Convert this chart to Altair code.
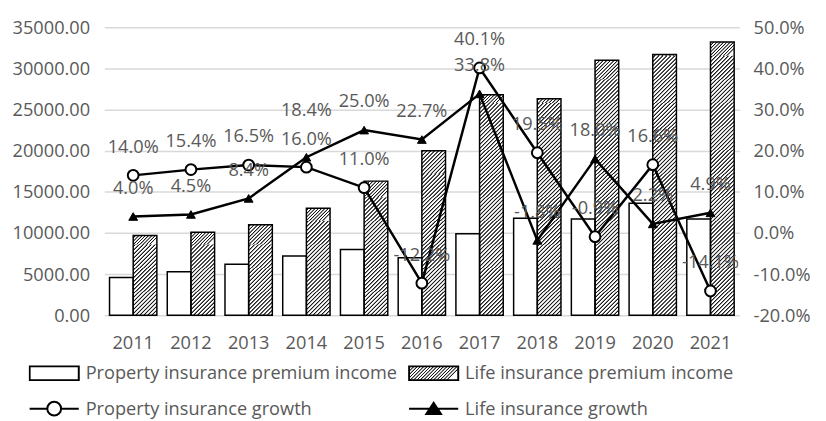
import altair as alt
import pandas as pd

# ---------------- data ----------------
years = ["2011", "2012", "2013", "2014", "2015", "2016", "2017", "2018", "2019", "2020", "2021"]
property_premium = [4600, 5300, 6200, 7200, 8000, 7000, 9900, 11800, 11700, 13600, 11700]
life_premium = [9700, 10100, 11000, 13000, 16300, 20000, 26800, 26300, 31000, 31700, 33200]
property_growth = [14.0, 15.4, 16.5, 16.0, 11.0, -12.2, 40.1, 19.5, -0.9, 16.6, -14.1]
life_growth = [4.0, 4.5, 8.4, 18.4, 25.0, 22.7, 33.8, -1.8, 18.0, 2.2, 4.9]

PROP_INC = "Property insurance premium income"
LIFE_INC = "Life insurance premium income"
PROP_GR = "Property insurance growth"
LIFE_GR = "Life insurance growth"
series_names = [PROP_INC, LIFE_INC, PROP_GR, LIFE_GR]

# ---------------- styling constants ----------------
FONT = "Open Sans"
FS = 18.5
GREY = "#595959"
W, H = 646, 293
Y_MAX = 35000
P_IN = 0.18
BAR_W = W / len(years) * (1 - P_IN) / 2
HPITCH = 4.0  # horizontal distance between hatch lines, px
PROFILE = ((0.2, "#ffffff"), (0.42, "#1a1a1a"), (0.58, "#1a1a1a"), (0.8, "#ffffff"))
TILE_PX = 24.0
TILE_V = TILE_PX * Y_MAX / H
OVL_V = 1.0 * Y_MAX / H
MINUS = "\u2212"

# hatch gradient for one tile of a life bar, phase-continuous along the bar
tile_stops = []
for i in range(-1, 14):
    for frac, col in PROFILE:
        tile_stops.append("{offset:(%g+datum.ph)/datum.sp,color:'%s'}" % (HPITCH * (i + frac), col))
tile_grad_expr = "{gradient:'linear',x1:0,y1:0,x2:1,y2:datum.th/%g,stops:[%s]}" % (BAR_W, ",".join(tile_stops))

# legend hatch (symbol box 50 x 14)
leg_k = HPITCH / 64.0
leg_parts = []
i = 0
while (i + PROFILE[0][0]) * leg_k <= 1:
    for frac, col in PROFILE:
        leg_parts.append("{offset:%.4f,color:'%s'}" % (min(1.0, (i + frac) * leg_k), col))
    i += 1
legend_grad_expr = "{gradient:'linear',x1:0,y1:0,x2:1,y2:0.28,stops:[%s]}" % ",".join(leg_parts)

shape_paths = [
    "M-1,-0.28H1V0.28H-1Z",
    "M-1,-0.28H1V0.28H-1Z",
    "M-1,0H-0.28M0.28,0H1M-0.28,0A0.28,0.28,0,1,1,0.28,0A0.28,0.28,0,1,1,-0.28,0Z",
    "M-1,0H1M0,-0.24L0.3,0.22L-0.3,0.22Z",
]

bars_df = pd.DataFrame({
    "year": years * 2,
    "series": [PROP_INC] * len(years) + [LIFE_INC] * len(years),
    "value": property_premium + life_premium,
})
growth_df = pd.DataFrame({"year": years, "pg": property_growth, "lg": life_growth})
legend_df = pd.DataFrame({"series": series_names})

x_enc = alt.X(
    "year:N",
    sort=years,
    scale=alt.Scale(paddingInner=P_IN, paddingOuter=P_IN / 2),
    axis=alt.Axis(title=None, labelAngle=0, domain=False, ticks=False, labelPadding=19,
                  labelFont=FONT, labelFontSize=FS, labelColor=GREY, grid=False),
)
xoff_enc = alt.XOffset("series:N", scale=alt.Scale(domain=[PROP_INC, LIFE_INC], paddingInner=0, paddingOuter=0))
left_scale = alt.Scale(domain=[0, Y_MAX], nice=False)
left_axis = alt.Axis(title=None, orient="left", values=list(range(0, 35001, 5000)), format=".2f",
                     domain=False, ticks=False, labelPadding=15, grid=True, gridColor="#d9d9d9",
                     gridWidth=1.5, labelFont=FONT, labelFontSize=FS, labelColor=GREY)

bars_fill = alt.Chart(bars_df).mark_bar(fill="white", strokeWidth=0).encode(
    x=x_enc, xOffset=xoff_enc, y=alt.Y("value:Q", scale=left_scale, axis=left_axis),
)

tiles = alt.Chart(bars_df).transform_filter(
    "datum.series === '%s'" % LIFE_INC
).transform_calculate(
    idx="sequence(0, ceil(datum.value / %g))" % TILE_V
).transform_flatten(
    ["idx"]
).transform_calculate(
    y0="datum.idx * %g" % TILE_V,
    y1="min(datum.value, (datum.idx + 1) * %g + %g)" % (TILE_V, OVL_V),
).transform_calculate(
    th="(datum.y1 - datum.y0) / %d * %d" % (Y_MAX, H),
    dtop="datum.y1 / %d * %d" % (Y_MAX, H),
).transform_calculate(
    sp="%g + datum.th" % BAR_W,
    ph="datum.dtop %% %g" % HPITCH,
).transform_calculate(
    grad=tile_grad_expr
).mark_bar(strokeWidth=0).encode(
    x=x_enc, xOffset=xoff_enc,
    y=alt.Y("y0:Q", scale=left_scale, axis=left_axis), y2="y1:Q",
    fill=alt.Fill("grad:N", scale=None),
)

outline = alt.Chart(bars_df).mark_bar(fill="white", fillOpacity=0, stroke="black", strokeWidth=1.5).encode(
    x=x_enc, xOffset=xoff_enc, y=alt.Y("value:Q", scale=left_scale, axis=left_axis),
)

left = alt.layer(bars_fill, tiles, outline)


def y_right(field):
    return alt.Y(field + ":Q", scale=alt.Scale(domain=[-20, 50], nice=False),
                 axis=alt.Axis(title=None, orient="right", values=list(range(-20, 51, 10)),
                               labelExpr="replace(format(datum.value, '.1f'), '%s', '-') + '%%'" % MINUS,
                               domain=False, ticks=False,
                               labelPadding=14, grid=False, labelFont=FONT, labelFontSize=FS,
                               labelColor=GREY))


base = alt.Chart(growth_df).transform_calculate(
    plbl="replace(format(datum.pg, '.1f'), '%s', '-') + '%%'" % MINUS,
    llbl="replace(format(datum.lg, '.1f'), '%s', '-') + '%%'" % MINUS,
    # lift a life label when it would collide with the property label just below it
    lgl="datum.lg + ((datum.lg >= datum.pg && datum.lg - datum.pg < 6) ? 4.5 : 0)",
)

p_line = base.mark_line(color="black", strokeWidth=2.5).encode(x=x_enc, y=y_right("pg"))
l_line = base.mark_line(color="black", strokeWidth=2.5).encode(x=x_enc, y=y_right("lg"))
p_pts = base.mark_point(shape="circle", filled=True, fill="white", stroke="black", strokeWidth=2,
                        size=120, opacity=1).encode(x=x_enc, y=y_right("pg"))
l_pts = base.mark_point(shape="triangle-up", filled=True, fill="black", stroke="black", strokeWidth=1,
                        size=80, opacity=1).encode(x=x_enc, y=y_right("lg"))
p_txt = base.mark_text(dy=-29, font=FONT, fontSize=FS, color=GREY).encode(x=x_enc, y=y_right("pg"), text="plbl:N")
l_txt = base.mark_text(dy=-29, font=FONT, fontSize=FS, color=GREY).encode(x=x_enc, y=y_right("lgl"), text="llbl:N")

growth = alt.layer(l_line, p_line, l_pts, p_pts, l_txt, p_txt)

leg = alt.Legend(title=None, orient="none", legendX=-77, legendY=340, columns=2, direction="horizontal",
                 columnPadding=10, rowPadding=12, clipHeight=24, symbolSize=2500, labelOffset=6,
                 labelFont=FONT, labelFontSize=FS, labelColor=GREY, labelLimit=600, symbolStrokeWidth=2,
                 symbolStrokeColor="black", padding=0)

dummy = alt.Chart(legend_df).transform_filter("false").mark_point(
    filled=True, opacity=1, stroke="black", strokeWidth=2, size=2500
).encode(
    fill=alt.Fill("series:N", scale=alt.Scale(domain=series_names,
                                              range=["#ffffff", {"expr": legend_grad_expr}, "#ffffff", "#000000"]),
                  legend=leg),
    shape=alt.Shape("series:N", scale=alt.Scale(domain=series_names, range=shape_paths), legend=leg),
)

chart = alt.layer(left, growth, dummy).resolve_scale(y="independent").properties(
    width=W, height=H,
    autosize=alt.AutoSizeParams(type="none"),
    padding={"left": 98, "top": 16, "right": 80, "bottom": 104},
).configure_view(stroke=None)

chart.save("out.html", embed_options={"renderer": "svg", "actions": False})
